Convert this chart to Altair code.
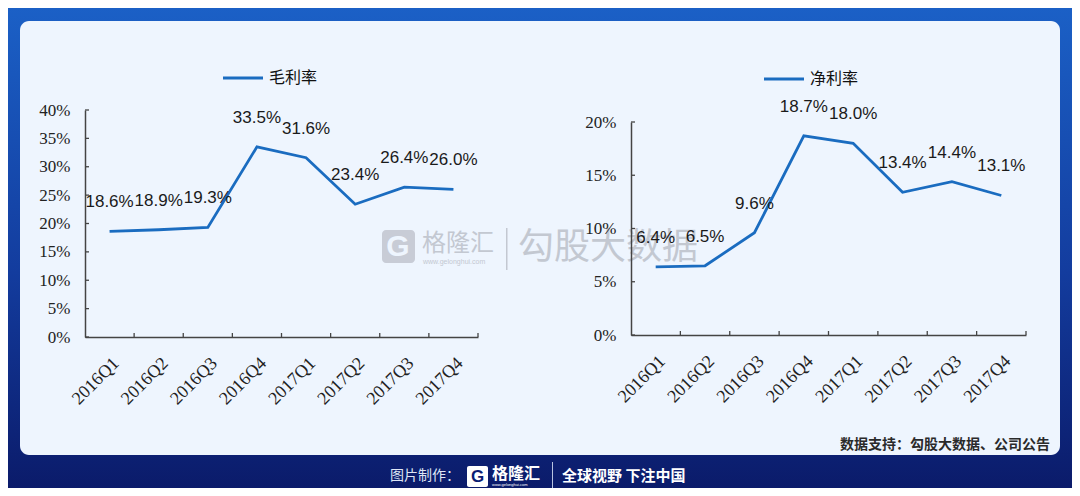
import altair as alt
import pandas as pd

# ---------------- data ----------------
quarters = ["2016Q1", "2016Q2", "2016Q3", "2016Q4", "2017Q1", "2017Q2", "2017Q3", "2017Q4"]
gross_margin = [0.186, 0.189, 0.193, 0.335, 0.316, 0.234, 0.264, 0.260]
net_margin = [0.064, 0.065, 0.096, 0.187, 0.180, 0.134, 0.144, 0.131]
gross_ticks = [0.0, 0.05, 0.10, 0.15, 0.20, 0.25, 0.30, 0.35, 0.40]
net_ticks = [0.0, 0.05, 0.10, 0.15, 0.20]
gross_name = "毛利率"
net_name = "净利率"
source_text = "数据支持：勾股大数据、公司公告"
footer_left = "图片制作："
footer_brand = "格隆汇"
footer_slogan = "全球视野 下注中国"
watermark_a = "格隆汇"
watermark_b = "勾股大数据"
watermark_url = "www.gelonghui.com"

W, H = 1064, 480
BLUE = "#1a6cc0"
SERIF = "Liberation Serif"
SANS = "Liberation Sans"
CJK = "Noto Sans CJK SC"
ONE = pd.DataFrame({"k": [0]})


def deco_text(txt, x, y, size, color, font=CJK, weight="normal", align="left", baseline="middle", opacity=1.0):
    return alt.Chart(ONE).mark_text(
        text=txt, font=font, fontSize=size, color=color, fontWeight=weight,
        align=align, baseline=baseline, opacity=opacity
    ).encode(x=alt.value(x), y=alt.value(y))


def deco_rect(x, x2, y, y2, **kw):
    return alt.Chart(ONE).mark_rect(**kw).encode(
        x=alt.value(x), x2=alt.value(x2), y=alt.value(y), y2=alt.value(y2)
    )


def panel(values, ticks, name, xr, yr, ymax, legend_x, legend_y):
    df = pd.DataFrame({"q": quarters, "v": values, "s": [name] * len(quarters)})
    tick_df = pd.DataFrame({"v": ticks})
    q_df = pd.DataFrame({"q": quarters})

    xscale = alt.Scale(type="band", domain=quarters, range=xr, paddingInner=0, paddingOuter=0)
    yscale = alt.Scale(domain=[0, ymax], range=yr, nice=False, zero=True)
    xaxis = alt.Axis(
        orient="bottom", offset=yr[0] - H, ticks=False, tickBand="extent",
        labelAngle=-45, labelAlign="right", labelBaseline="top",
        labelFont=SERIF, labelFontSize=18, labelColor="#222222", labelPadding=17,
        domainColor="#444444", domainWidth=1.5, grid=False, title=None, zindex=2,
    )
    yaxis = alt.Axis(
        orient="left", offset=-xr[0], values=ticks, format=".0%", ticks=False,
        labelFont=SERIF, labelFontSize=17, labelColor="#222222", labelPadding=15,
        domainColor="#444444", domainWidth=1.5, grid=False, title=None, zindex=2,
    )

    line = alt.Chart(df).mark_line(strokeWidth=2.8).encode(
        x=alt.X("q:N", scale=xscale, axis=xaxis, sort=quarters, bandPosition=0.5),
        y=alt.Y("v:Q", scale=yscale, axis=yaxis),
        color=alt.Color(
            "s:N",
            scale=alt.Scale(domain=[name], range=[BLUE]),
            legend=alt.Legend(
                orient="none", legendX=legend_x, legendY=legend_y, title=None,
                symbolType="stroke", symbolSize=1600, symbolStrokeWidth=3.2,
                symbolStrokeColor=BLUE, labelFont=CJK, labelFontSize=16,
                labelColor="#111111", labelOffset=4, padding=0, zindex=2,
            ),
        ),
    )
    labels = alt.Chart(df).mark_text(
        font=SANS, fontSize=17, color="#1a1a1a", dy=-29, baseline="middle", align="center"
    ).encode(
        x=alt.X("q:N", scale=xscale, axis=xaxis, sort=quarters, bandPosition=0.5),
        y=alt.Y("v:Q", scale=yscale, axis=yaxis),
        text=alt.Text("v:Q", format=".1%"),
    )
    yt = alt.Chart(tick_df).mark_rule(color="#444444", strokeWidth=1.3).encode(
        x=alt.value(xr[0]), x2=alt.value(xr[0] + 4),
        y=alt.Y("v:Q", scale=yscale, axis=yaxis),
    )
    xt = alt.Chart(q_df).mark_rule(color="#444444", strokeWidth=1.3).encode(
        x=alt.X("q:N", scale=xscale, axis=xaxis, sort=quarters, bandPosition=1),
        y=alt.value(yr[0]), y2=alt.value(yr[0] - 4),
    )
    return alt.layer(line, labels, yt, xt)


bg = deco_rect(0, W, 0, H, color=alt.Gradient(
    gradient="linear", x1=0, y1=0, x2=0, y2=1,
    stops=[alt.GradientStop(offset=0, color="#1b60c6"),
           alt.GradientStop(offset=0.55, color="#133c9e"),
           alt.GradientStop(offset=1, color="#0b1b6a")],
))
card = deco_rect(12, 1052, 13, 447, color="#eef5fe", cornerRadius=9)

wm_color = "#c3c8d1"
wm = [
    deco_rect(374, 407, 222, 255, color=wm_color, cornerRadius=4, opacity=0.9),
    deco_text("G", 390, 239, 30, "#eef5fe", font=SANS, weight="bold", align="center"),
    deco_text(watermark_a, 414, 236, 24, wm_color),
    deco_text(watermark_url, 415, 254, 7, wm_color, font=SANS),
    deco_rect(498, 499.5, 220, 262, color=wm_color),
    deco_text(watermark_b, 510, 240, 36, wm_color),
]

left = panel(gross_margin, gross_ticks, gross_name, [77, 470], [329, 102], 0.40, 213, 48)
right = panel(net_margin, net_ticks, net_name, [623, 1018], [327, 114], 0.20, 754, 49)

foot = [
    deco_text(source_text, 1042, 437, 14, "#2a2a2a", weight="bold", align="right"),
    deco_text(footer_left, 382, 468, 14, "#dfe6f5"),
    deco_rect(459, 480, 458, 479, color="#ffffff", cornerRadius=2),
    deco_text("G", 469.5, 469, 17, "#0c1e74", font=SANS, weight="bold", align="center"),
    deco_text(footer_brand, 484, 466, 16, "#ffffff", weight="bold"),
    deco_text(watermark_url, 484, 477, 4, "#ffffff", font=SANS),
    deco_rect(544, 545, 454, 482, color="#b8c3e0"),
    deco_text(footer_slogan, 554, 468, 15, "#ffffff", weight="bold"),
]

chart = alt.layer(bg, card, *wm, left, right, *foot).resolve_scale(
    x="independent", y="independent", color="independent"
).properties(
    width=W, height=H, padding=0, autosize=alt.AutoSizeParams(type="none")
).configure_view(stroke=None)

chart.save("out.html", embed_options={"renderer": "svg", "actions": False})
